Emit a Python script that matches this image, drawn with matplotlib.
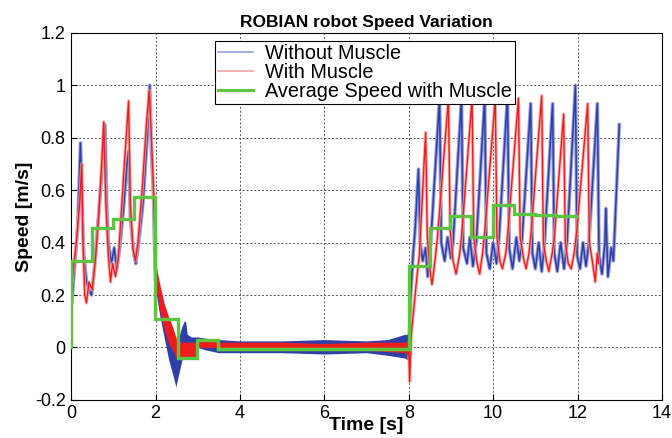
import numpy as np
import matplotlib
matplotlib.use("Agg")
import matplotlib.pyplot as plt

plt.rcParams['font.family'] = ['Liberation Sans', 'DejaVu Sans']

# --- data ------------------------------------------------------------------
# gait phase 0-2 s (peaks / troughs)
t_blue_a = [0.0, 0.05, 0.1, 0.15, 0.22, 0.26, 0.30, 0.36, 0.42, 0.48, 0.55, 0.62, 0.72, 0.80,
            0.84, 0.88, 0.95, 1.02, 1.08, 1.15, 1.25, 1.32, 1.36, 1.40, 1.48, 1.53, 1.60, 1.70,
            1.80, 1.86, 1.90, 1.95, 1.98, 2.0]
v_blue_a = [0.15, 0.25, 0.35, 0.45, 0.78, 0.50, 0.35, 0.25, 0.22, 0.20, 0.30, 0.45, 0.65, 0.85,
            0.55, 0.40, 0.32, 0.38, 0.30, 0.38, 0.55, 0.70, 0.75, 0.50, 0.36, 0.32, 0.40, 0.55,
            0.80, 1.0, 0.75, 0.58, 0.35, 0.26]

t_red_a = [0.0, 0.05, 0.12, 0.2, 0.25, 0.28, 0.32, 0.36, 0.42, 0.50, 0.58, 0.65, 0.72, 0.77,
           0.82, 0.88, 0.93, 0.98, 1.05, 1.12, 1.2, 1.28, 1.36, 1.40, 1.46, 1.52, 1.58, 1.68,
           1.78, 1.85, 1.90, 1.95, 2.0]
v_red_a = [0.22, 0.30, 0.40, 0.55, 0.70, 0.40, 0.20, 0.17, 0.25, 0.22, 0.35, 0.50, 0.70, 0.86,
           0.55, 0.35, 0.25, 0.32, 0.27, 0.35, 0.55, 0.75, 0.94, 0.55, 0.38, 0.33, 0.40, 0.60,
           0.85, 0.98, 0.80, 0.60, 0.30]

# transition + standing phase 2-8 s (noise band envelopes)
t_blue_b = [2.0, 2.1, 2.2, 2.3, 2.4, 2.48, 2.55, 2.62, 2.68, 2.71, 2.75, 2.85, 3.0, 3.2, 3.5,
            4.0, 5.0, 6.0, 7.0, 7.5, 7.9, 8.0]
lo_blue_b = [0.22, 0.12, 0.04, -0.04, -0.10, -0.15, -0.10, -0.05, -0.02, 0.0, -0.02, -0.01,
             0.0, -0.01, -0.02, -0.02, -0.02, -0.025, -0.02, -0.03, -0.04, -0.05]
hi_blue_b = [0.30, 0.20, 0.14, 0.08, 0.03, 0.0, 0.04, 0.08, 0.10, 0.10, 0.05, 0.04, 0.04,
             0.035, 0.03, 0.025, 0.025, 0.03, 0.025, 0.03, 0.05, 0.05]

t_red_b = [2.0, 2.1, 2.2, 2.3, 2.4, 2.5, 2.6, 2.8, 2.99, 3.0, 3.2, 3.47, 3.5, 4.0, 5.0, 6.0,
           7.0, 7.9, 8.0]
lo_red_b = [0.25, 0.14, 0.07, 0.02, -0.01, -0.04, -0.04, -0.04, -0.04, 0.0, 0.0, 0.0, -0.01,
            -0.01, -0.01, -0.01, -0.01, -0.02, -0.03]
hi_red_b = [0.32, 0.24, 0.17, 0.12, 0.08, 0.03, 0.02, 0.02, 0.02, 0.03, 0.03, 0.03, 0.02,
            0.02, 0.02, 0.015, 0.02, 0.02, 0.03]

# gait phase 8-13 s
t_blue_c = [8.0, 8.04, 8.10, 8.15, 8.23, 8.27, 8.33, 8.40, 8.45, 8.52, 8.73, 8.77, 8.85, 8.92,
            9.0, 9.05, 9.25, 9.29, 9.38, 9.45, 9.52, 9.60, 9.80, 9.84, 9.92, 10.0, 10.08, 10.14,
            10.34, 10.38, 10.46, 10.55, 10.62, 10.68, 10.89, 10.93, 11.0, 11.08, 11.15, 11.21,
            11.41, 11.45, 11.52, 11.6, 11.68, 11.75, 11.95, 11.99, 12.06, 12.13, 12.2, 12.27,
            12.47, 12.51, 12.58, 12.65, 12.67, 12.72, 12.8, 12.85, 12.99]
v_blue_c = [-0.03, 0.18, 0.35, 0.45, 0.68, 0.40, 0.33, 0.38, 0.27, 0.40, 0.95, 0.40, 0.33, 0.42,
            0.34, 0.40, 0.95, 0.38, 0.32, 0.42, 0.31, 0.40, 0.95, 0.36, 0.30, 0.40, 0.32, 0.42,
            0.96, 0.38, 0.30, 0.42, 0.33, 0.40, 0.93, 0.36, 0.30, 0.40, 0.29, 0.38,
            0.93, 0.36, 0.29, 0.40, 0.30, 0.40, 1.0, 0.35, 0.30, 0.40, 0.31, 0.40,
            0.93, 0.35, 0.28, 0.40, 0.53, 0.27, 0.38, 0.33, 0.85]

t_red_c = [8.0, 8.02, 8.06, 8.12, 8.2, 8.25, 8.40, 8.44, 8.50, 8.55, 8.62, 8.68, 8.94, 8.98,
           9.05, 9.12, 9.2, 9.25, 9.50, 9.54, 9.62, 9.68, 9.75, 9.80, 10.05, 10.09, 10.16, 10.22,
           10.3, 10.35, 10.60, 10.64, 10.72, 10.78, 10.85, 10.90, 11.15, 11.19, 11.26, 11.32,
           11.40, 11.45, 11.67, 11.71, 11.78, 11.85, 11.92, 11.98, 12.24, 12.28, 12.35, 12.42,
           12.47, 12.50]
v_red_c = [0.0, -0.13, 0.05, 0.15, 0.28, 0.35, 0.82, 0.42, 0.30, 0.24, 0.33, 0.42, 0.95, 0.45,
           0.33, 0.28, 0.35, 0.42, 0.95, 0.42, 0.32, 0.28, 0.36, 0.44, 0.95, 0.42, 0.33, 0.30,
           0.36, 0.44, 0.95, 0.42, 0.34, 0.30, 0.36, 0.44, 0.96, 0.40, 0.33, 0.29,
           0.36, 0.42, 0.89, 0.40, 0.32, 0.30, 0.36, 0.44, 0.93, 0.40, 0.33, 0.25,
           0.36, 0.32]

# average speed with muscle (step edges and levels)
t_avg = [0.0, 0.5, 0.98, 1.48, 1.98, 2.52, 2.99, 3.47, 8.0, 8.5, 8.97, 9.47, 10.0, 10.5, 11.0,
         11.5, 12.0]
v_avg = [0.33, 0.455, 0.49, 0.575, 0.107, -0.04, 0.027, -0.004, 0.31, 0.456, 0.50, 0.42,
         0.544, 0.51, 0.505, 0.50]

blue = '#2e3fa8'
blue_pale = '#9a9fd8'
red = '#ee1c1c'
red_pale = '#f5a3a3'
green = '#5cc43e'

fig = plt.figure(figsize=(6.72, 4.38), dpi=100)
ax = fig.add_axes([0.106, 0.087, 0.879, 0.838])

# without muscle
for t, v in [(t_blue_a, v_blue_a), (t_blue_c, v_blue_c)]:
    ax.plot(t, v, color=blue_pale, lw=2.6, zorder=2)
    ax.plot(t, v, color=blue, lw=1.1, zorder=2.1)
ax.fill_between(t_blue_b, lo_blue_b, hi_blue_b, color=blue, lw=0, zorder=2)

# with muscle
for t, v in [(t_red_a, v_red_a), (t_red_c, v_red_c)]:
    ax.plot(t, v, color=red_pale, lw=2.4, zorder=3, alpha=0.8)
    ax.plot(t, v, color=red, lw=1.0, zorder=3.1)
ax.fill_between(t_red_b, lo_red_b, hi_red_b, color=red, lw=0, zorder=3)

# average speed step
ax.stairs(v_avg, t_avg, baseline=None, color=green, lw=2.4, zorder=5)
ax.plot([0, 0], [0, v_avg[0]], color=green, lw=2.4, zorder=5)
ax.plot([t_avg[7], t_avg[8]], [v_avg[7], v_avg[7]], color=green, lw=2.4, zorder=5)

# legend proxies
ax.plot([], [], color=blue_pale, lw=1.2, label='Without Muscle')
ax.plot([], [], color=red_pale, lw=1.2, label='With Muscle')
ax.plot([], [], color=green, lw=2.2, label='Average Speed with Muscle')
handles, labels = ax.get_legend_handles_labels()
leg = ax.legend(handles[-3:], labels[-3:], loc='upper left', bbox_to_anchor=(0.243, 0.978),
                fontsize=14.3, frameon=True, fancybox=False, framealpha=1,
                edgecolor='black', borderpad=0.15, labelspacing=0.0, handlelength=1.8,
                handletextpad=0.6, borderaxespad=0)
leg.get_frame().set_linewidth(0.8)
leg.set_zorder(10)

ax.set_xlim(0, 14)
ax.set_ylim(-0.2, 1.2)
ax.set_xticks(np.arange(0, 15, 2))
ax.set_yticks(np.arange(-0.2, 1.21, 0.2))
ax.set_xticklabels(['0', '2', '4', '6', '8', '10', '12', '14'])
ax.set_yticklabels(['-0.2', '0', '0.2', '0.4', '0.6', '0.8', '1', '1.2'])
ax.tick_params(direction='in', labelsize=13, length=4)
ax.tick_params(axis='y', pad=4)
ax.tick_params(axis='x', pad=4)
ax.grid(True, ls=(0, (2, 2)), color='#555555', lw=0.7)
ax.set_axisbelow(True)
for s in ax.spines.values():
    s.set_linewidth(0.8)

ax.set_title('ROBIAN robot Speed Variation', fontsize=12.5, fontweight='bold', pad=4)
ax.set_xlabel('Time [s]', fontsize=14, fontweight='bold', labelpad=-4)
ax.set_ylabel('Speed [m/s]', fontsize=14, fontweight='bold', labelpad=1)

fig.savefig('out.png', dpi=100)
